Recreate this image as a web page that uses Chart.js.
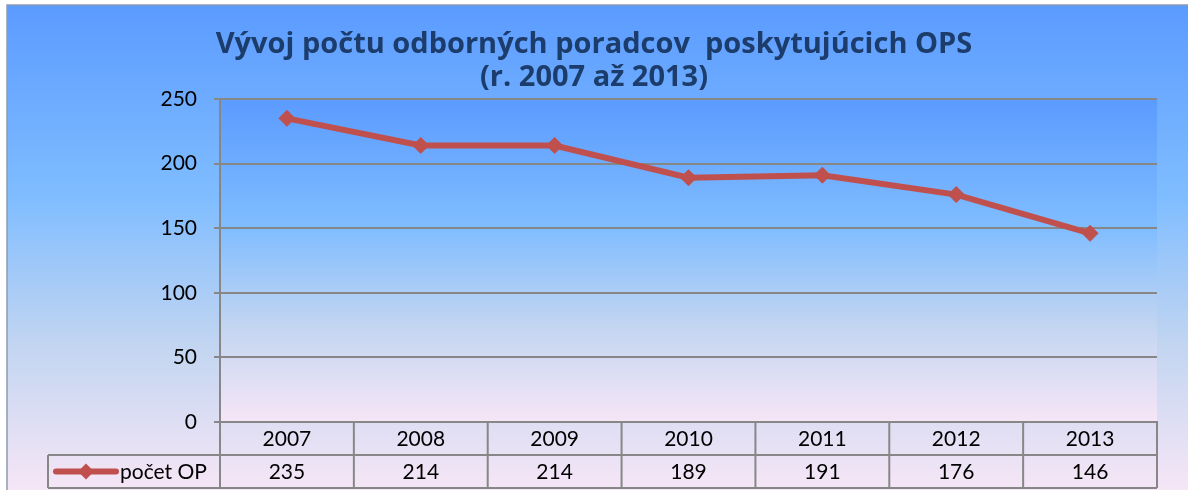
<!DOCTYPE html>
<html lang="sk">
<head>
    <meta charset="UTF-8">
    <title>Vývoj počtu odborných poradcov</title>
    <style>
        html, body {
            margin: 0;
            padding: 0;
            background: #ffffff;
        }

        .container {
            width: 1188px;
            height: 490px;
        }
    </style>
</head>
<body>
    <div class="container">
        <canvas id="opChart" width="1188" height="490"></canvas>
    </div>

    <script src="https://cdn.jsdelivr.net/npm/chart.js"></script>
    <script>
        const years = ['2007', '2008', '2009', '2010', '2011', '2012', '2013'];
        const pocetOP = [235, 214, 214, 189, 191, 176, 146];
        const yTicks = [0, 50, 100, 150, 200, 250];
        const seriesName = 'počet OP';
        const titleLines = ['Vývoj počtu odborných poradcov  poskytujúcich OPS', '(r. 2007 až 2013)'];

        const FONT = 'Lato, "Open Sans", sans-serif';
        const GRID = '#878787';
        const LINE_RED = '#c0504d';

        function skyGradient(ctx, top, bottom) {
            const g = ctx.createLinearGradient(0, top, 0, bottom);
            g.addColorStop(0, '#5b9bff');
            g.addColorStop(0.4, '#80bdff');
            g.addColorStop(0.7, '#c2d5f1');
            g.addColorStop(1, '#f6e6f6');
            return g;
        }

        // backgrounds: whole chart + plot area
        const backgroundPlugin = {
            id: 'backgroundPlugin',
            beforeDraw(chart) {
                const ctx = chart.ctx;
                const area = chart.chartArea;
                ctx.save();
                ctx.fillStyle = '#ffffff';
                ctx.fillRect(0, 0, chart.width, chart.height);
                ctx.fillStyle = skyGradient(ctx, 5, chart.height);
                ctx.fillRect(7, 5, chart.width, chart.height);
                ctx.strokeStyle = '#8c9bb4';
                ctx.lineWidth = 1.5;
                ctx.strokeRect(7, 5, chart.width + 10, chart.height + 10);
                ctx.fillStyle = skyGradient(ctx, area.top, area.bottom);
                ctx.fillRect(area.left, area.top, area.right - area.left, area.bottom - area.top);
                ctx.restore();
            }
        };

        // data table under the x axis
        const dataTablePlugin = {
            id: 'dataTablePlugin',
            afterDraw(chart) {
                const ctx = chart.ctx;
                const xs = chart.scales.x;
                const area = chart.chartArea;
                const colW = (area.right - area.left) / years.length;
                const top = area.bottom;
                const mid = top + 33;
                const bottom = top + 66;
                const legendLeft = 48;

                ctx.save();
                ctx.strokeStyle = GRID;
                ctx.lineWidth = 2;
                ctx.beginPath();
                ctx.moveTo(legendLeft, mid);
                ctx.lineTo(area.right, mid);
                ctx.moveTo(legendLeft, bottom);
                ctx.lineTo(area.right, bottom);
                ctx.moveTo(legendLeft, mid);
                ctx.lineTo(legendLeft, bottom);
                for (let i = 0; i <= years.length; i++) {
                    const x = area.left + i * colW;
                    ctx.moveTo(x, top);
                    ctx.lineTo(x, bottom);
                }
                ctx.stroke();

                ctx.fillStyle = '#000000';
                ctx.font = '21px ' + FONT;
                ctx.textAlign = 'center';
                ctx.textBaseline = 'middle';
                years.forEach((y, i) => {
                    const cx = xs.getPixelForValue(i);
                    ctx.fillText(y, cx, (top + mid) / 2 + 1);
                    ctx.fillText(String(pocetOP[i]), cx, (mid + bottom) / 2 + 1);
                });

                // legend key
                const ky = (mid + bottom) / 2;
                ctx.strokeStyle = LINE_RED;
                ctx.lineWidth = 6;
                ctx.lineCap = 'round';
                ctx.beginPath();
                ctx.moveTo(56, ky);
                ctx.lineTo(116, ky);
                ctx.stroke();
                ctx.fillStyle = LINE_RED;
                ctx.beginPath();
                ctx.moveTo(86, ky - 8);
                ctx.lineTo(94, ky);
                ctx.lineTo(86, ky + 8);
                ctx.lineTo(78, ky);
                ctx.closePath();
                ctx.fill();
                ctx.fillStyle = '#000000';
                ctx.textAlign = 'left';
                ctx.fillText(seriesName, 120, ky + 1);
                ctx.restore();
            }
        };

        const opChart = new Chart(document.getElementById('opChart').getContext('2d'), {
            type: 'line',
            data: {
                labels: years,
                datasets: [{
                    label: seriesName,
                    data: pocetOP,
                    borderColor: LINE_RED,
                    backgroundColor: LINE_RED,
                    borderWidth: 6,
                    pointStyle: 'rectRot',
                    pointRadius: 8,
                    pointHoverRadius: 8,
                    pointBorderWidth: 1,
                    tension: 0,
                    fill: false
                }]
            },
            options: {
                responsive: false,
                animation: false,
                layout: {
                    padding: { left: 0, right: 0, top: 0, bottom: 2 }
                },
                plugins: {
                    legend: { display: false },
                    tooltip: { enabled: false },
                    title: {
                        display: true,
                        text: titleLines,
                        color: '#1c3c6b',
                        font: { family: '"Open Sans", Lato, sans-serif', size: 29, weight: 'bold', lineHeight: 1.12 },
                        padding: { top: 28.8, bottom: 5.2 }
                    }
                },
                scales: {
                    x: {
                        type: 'category',
                        offset: true,
                        grid: { display: false },
                        ticks: { display: false },
                        border: { display: true, color: GRID, width: 2 },
                        afterFit(scale) { scale.height = 66; }
                    },
                    y: {
                        min: 0,
                        max: 250,
                        afterBuildTicks(scale) { scale.ticks = yTicks.map(v => ({ value: v })); },
                        grid: { color: GRID, lineWidth: 2, tickLength: 6 },
                        border: { display: true, color: GRID, width: 2 },
                        ticks: {
                            color: '#000000',
                            padding: 17,
                            font: { family: FONT, size: 21 }
                        },
                        afterFit(scale) { scale.width = 220; }
                    },
                    // empty strip on the right side of the plot
                    yRight: {
                        position: 'right',
                        min: 0,
                        max: 250,
                        grid: { display: false },
                        ticks: { display: false },
                        border: { display: false },
                        afterFit(scale) { scale.width = 31; }
                    }
                }
            },
            plugins: [backgroundPlugin, dataTablePlugin]
        });
    </script>
</body>
</html>
